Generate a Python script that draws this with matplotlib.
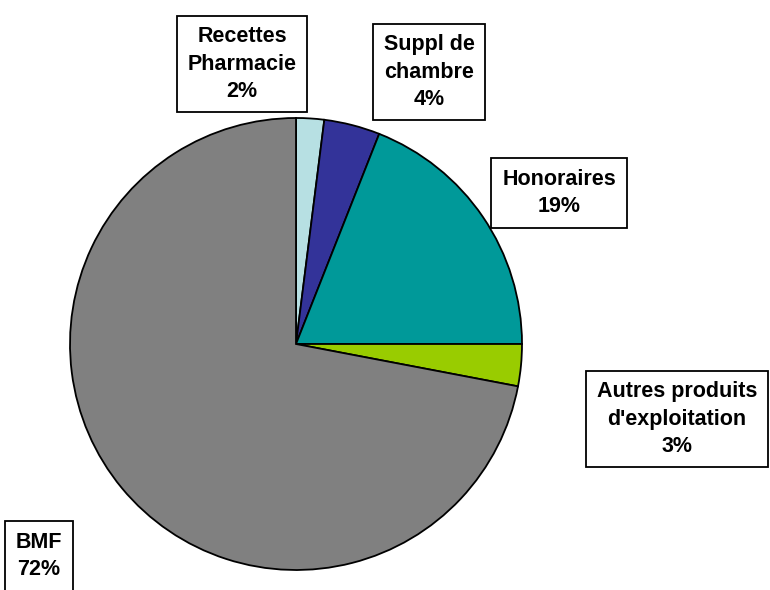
import matplotlib
matplotlib.use("Agg")
from matplotlib import pyplot as plt

plt.rcParams['font.family'] = ['Liberation Sans', 'DejaVu Sans']

labels = ["Recettes\nPharmacie", "Suppl de\nchambre", "Honoraires",
          "Autres produits\nd'exploitation", "BMF"]
values = [2, 4, 19, 3, 72]
colors = ["#B7E0E3", "#333399", "#009999", "#99CC00", "#808080"]

# label box centres in pixel coords (x, y from top)
label_pos = [(242, 64), (429, 72), (559, 193), (677, 419), (39, 556)]

W, H = 770, 590
fig = plt.figure(figsize=(7.7, 5.9), dpi=100)
ax = fig.add_axes([0, 0, 1, 1])

ax.pie(values, colors=colors, startangle=90, counterclock=False,
       center=(296, H - 344), radius=226,
       wedgeprops=dict(edgecolor="black", linewidth=1.3))

total = sum(values)
for lab, v, (x, y) in zip(labels, values, label_pos):
    ax.text(x, H - y, f"{lab}\n{round(100 * v / total)}%",
            ha="center", va="center", fontsize=15.5, fontweight="bold",
            linespacing=1.38,
            bbox=dict(boxstyle="square,pad=0.5", facecolor="white",
                      edgecolor="black", linewidth=1.3))

ax.set_xlim(0, W)
ax.set_ylim(0, H)
ax.set_aspect("equal")
ax.axis("off")

fig.savefig("out.png", dpi=100)
plt.close(fig)
